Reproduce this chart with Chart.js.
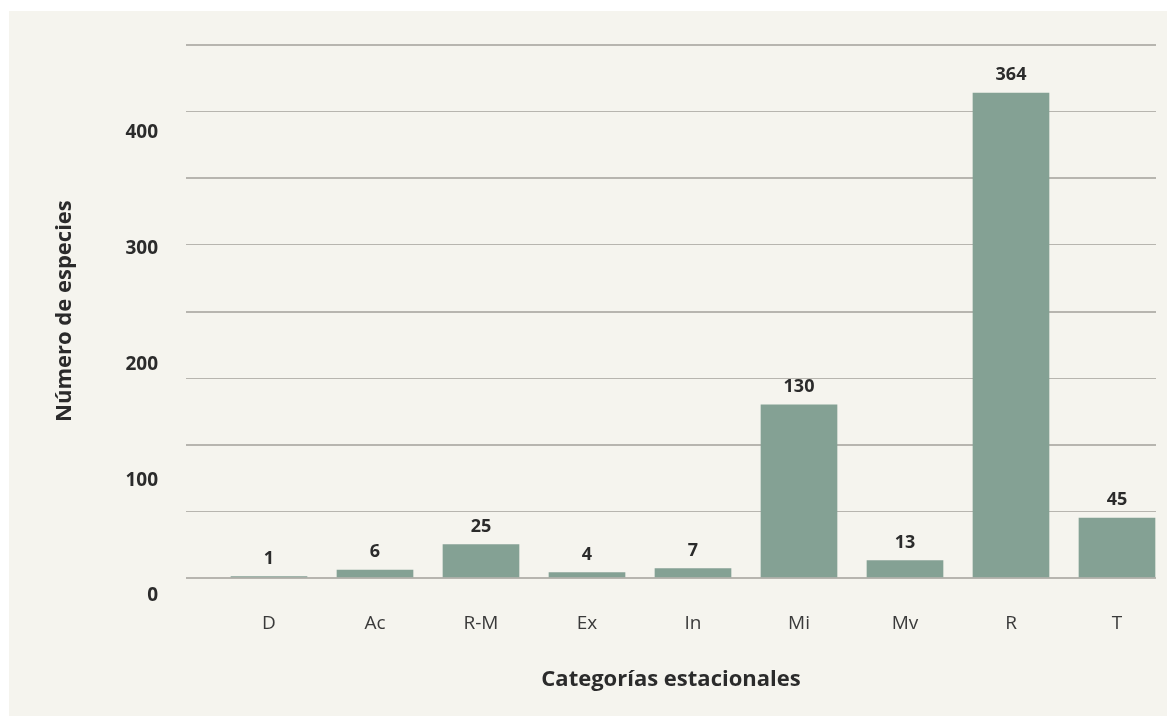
<!DOCTYPE html>
<html>
<head>
<meta charset="utf-8">
<script src="https://cdn.jsdelivr.net/npm/chart.js@4.4.1/dist/chart.umd.min.js"></script>
<style>
  html, body { margin: 0; padding: 0; background: #ffffff; }
  .panel { position: absolute; left: 9px; top: 11px; right: 0; bottom: 0; background: #f5f4ee; }
  .wrap { position: absolute; left: 0; top: 0; width: 1167px; height: 716px; }
</style>
</head>
<body>
<div class="panel"></div>
<div class="wrap"><canvas id="chart" width="1167" height="716"></canvas></div>
<script>
// categorias estacionales y numero de especies
const categories = ['D', 'Ac', 'R-M', 'Ex', 'In', 'Mi', 'Mv', 'R', 'T'];
const species = [1, 6, 25, 4, 7, 130, 13, 364, 45];
const gridValues = [0, 50, 100, 150, 200, 250, 300, 350, 400];
const tickLabels = [0, 100, 200, 300, 400];

const textColor = '#2b2b2b';
const fontFamily = "'Open Sans', 'Noto Sans', sans-serif";

// etiquetas de valor encima de cada barra
const valueLabels = {
  id: 'valueLabels',
  afterDatasetsDraw(chart) {
    const ctx = chart.ctx;
    const meta = chart.getDatasetMeta(0);
    ctx.save();
    ctx.font = 'bold 18px ' + fontFamily;
    ctx.fillStyle = textColor;
    ctx.textAlign = 'center';
    ctx.textBaseline = 'middle';
    meta.data.forEach((bar, i) => {
      ctx.fillText(String(species[i]), bar.x, bar.y - 18);
    });
    ctx.restore();
  },
};

new Chart(document.getElementById('chart'), {
  type: 'bar',
  data: {
    datasets: [
      {
        label: 'Número de especies',
        data: categories.map((c, i) => ({ x: i, y: species[i] })),
        backgroundColor: '#84a194',
        borderWidth: 0,
        barThickness: 76,
        yAxisID: 'y',
      },
    ],
  },
  options: {
    responsive: false,
    animation: false,
    layout: { padding: { left: 0, right: 11, top: 45, bottom: 0 } },
    plugins: { legend: { display: false }, tooltip: { enabled: false } },
    scales: {
      x: {
        type: 'linear',
        offset: false,
        min: -0.783,
        max: 8.368,
        afterBuildTicks: (scale) => {
          scale.ticks = categories.map((c, i) => ({ value: i }));
        },
        afterFit: (scale) => {
          scale.height = 116;
        },
        grid: { display: false, drawTicks: false },
        border: { display: false },
        ticks: {
          autoSkip: false,
          maxRotation: 0,
          padding: 12,
          color: '#3a3a3a',
          font: { family: fontFamily, size: 19 },
          callback: (v) => categories[v],
        },
        title: {
          display: true,
          text: 'Categorías estacionales',
          color: textColor,
          font: { family: fontFamily, size: 22, weight: 'bold' },
          padding: { top: 0, bottom: 23 },
        },
      },
      y: {
        position: 'left',
        min: -16.5,
        max: 400,
        afterBuildTicks: (scale) => {
          scale.ticks = gridValues.map((v) => ({ value: v }));
        },
        afterFit: (scale) => {
          scale.width = 0;
        },
        grid: {
          color: '#b7b5af',
          lineWidth: (ctx) => (ctx.tick && ctx.tick.value % 100 === 0 ? 2 : 1),
          drawTicks: false,
        },
        border: { display: false },
        ticks: { display: false },
      },
      y2: {
        position: 'left',
        min: -3.456,
        max: 476.03,
        afterBuildTicks: (scale) => {
          scale.ticks = tickLabels.map((v) => ({ value: v }));
        },
        afterFit: (scale) => {
          scale.width = 186;
        },
        grid: { display: false, drawTicks: false },
        border: { display: false },
        ticks: {
          padding: 28,
          color: textColor,
          font: { family: fontFamily, size: 19, weight: 'bold' },
        },
        title: {
          display: true,
          // leading spaces nudge the rotated title up to where the original sits
          text: '    Número de especies',
          color: textColor,
          font: { family: fontFamily, size: 22, weight: 'bold' },
          padding: { top: 52, bottom: 0 },
        },
      },
    },
  },
  plugins: [valueLabels],
});
</script>
</body>
</html>
